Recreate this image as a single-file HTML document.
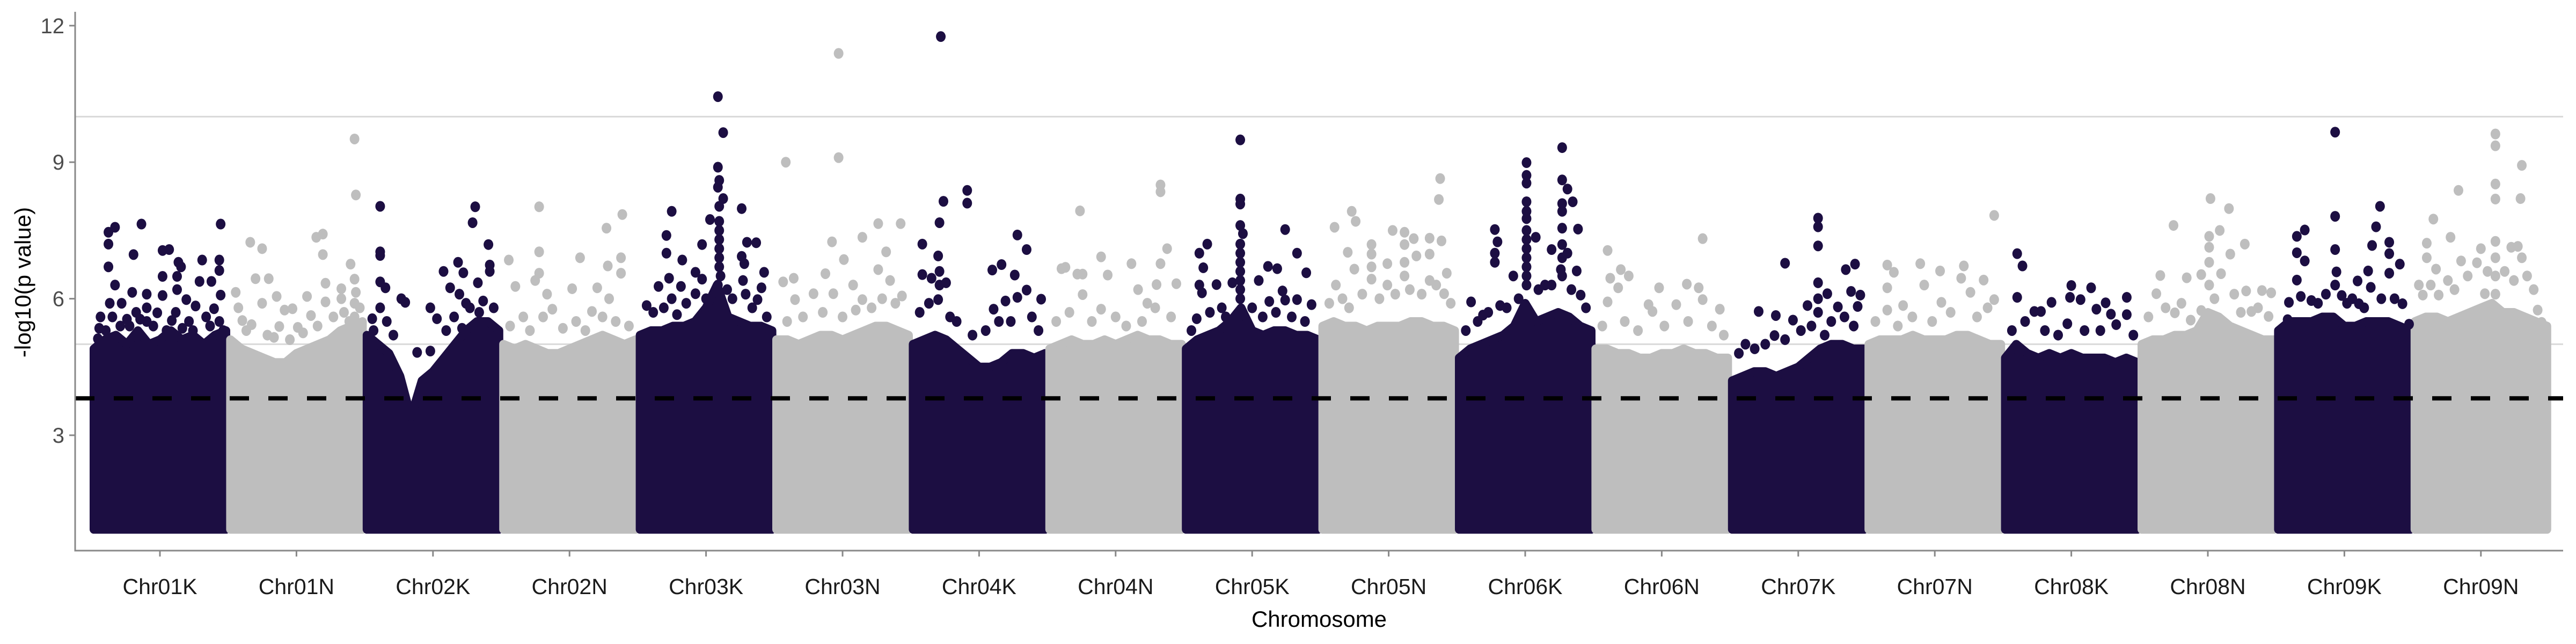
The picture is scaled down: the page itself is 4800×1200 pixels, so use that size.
<!DOCTYPE html>
<html><head><meta charset="utf-8"><style>
html,body{margin:0;padding:0;background:#fff;}
svg{display:block;}
text{font-family:"Liberation Sans",sans-serif;}
</style></head><body>
<svg id="chart" width="4800" height="1200" viewBox="0 0 4800 1200" xmlns="http://www.w3.org/2000/svg">
<g id="grid"></g>
<g id="blocks"></g>
<g id="points"></g>
<g id="thresh"></g>
<g id="axes"></g>
</svg>
<script>
const chromosomes = ["Chr01K","Chr01N","Chr02K","Chr02N","Chr03K","Chr03N","Chr04K","Chr04N","Chr05K","Chr05N","Chr06K","Chr06N","Chr07K","Chr07N","Chr08K","Chr08N","Chr09K","Chr09N"];
const yTicks = [3,6,9,12];
const gridValues = [5,10];
const thresholdValue = 3.81;
const minValue = 0.93;
// dense-region top (−log10 p) sampled at evenly spaced positions per chromosome
const denseTop = [
[4.9,5.1,5.2,5.0,5.3,5.0,5.1,5.3,5.1,5.2,5.0,5.2,5.3],
[5.1,4.9,4.8,4.7,4.6,4.6,4.8,4.9,5.0,5.1,5.3,5.4,5.5],
[5.2,5.0,4.8,4.3,3.4,4.2,4.4,4.7,5.0,5.3,5.5,5.5,5.3],
[5.0,4.9,5.0,4.9,4.8,4.8,4.9,5.0,5.1,5.2,5.1,5.0,5.1],
[5.2,5.3,5.3,5.4,5.4,5.5,5.8,6.3,5.6,5.5,5.4,5.4,5.3],
[5.1,5.1,5.0,5.1,5.2,5.2,5.1,5.2,5.3,5.4,5.4,5.3,5.2],
[5.0,5.1,5.2,5.1,4.9,4.7,4.5,4.5,4.6,4.8,4.8,4.7,4.8],
[4.9,5.0,5.1,5.0,5.0,5.1,5.0,5.1,5.2,5.1,5.1,5.0,5.0],
[4.9,5.1,5.2,5.3,5.5,5.8,5.3,5.2,5.3,5.3,5.2,5.2,5.1],
[5.4,5.5,5.4,5.4,5.3,5.4,5.4,5.4,5.5,5.5,5.4,5.4,5.3],
[4.7,4.9,5.0,5.1,5.2,5.4,5.9,5.5,5.6,5.7,5.6,5.4,5.3],
[4.9,4.9,4.8,4.8,4.7,4.7,4.8,4.8,4.9,4.8,4.8,4.7,4.7],
[4.2,4.3,4.4,4.4,4.3,4.4,4.5,4.7,4.9,5.0,5.0,4.9,4.9],
[5.0,5.1,5.1,5.1,5.2,5.1,5.1,5.1,5.2,5.2,5.1,5.0,5.0],
[4.7,5.0,4.8,4.7,4.8,4.7,4.8,4.7,4.7,4.7,4.6,4.7,4.6],
[5.0,5.1,5.1,5.2,5.2,5.3,5.7,5.6,5.4,5.3,5.2,5.1,5.1],
[5.3,5.5,5.5,5.5,5.6,5.6,5.4,5.4,5.5,5.5,5.5,5.4,5.3],
[5.5,5.6,5.6,5.5,5.6,5.7,5.8,5.9,5.7,5.7,5.6,5.5,5.4]
];
// individual points: chromosome index, relative position within chromosome, −log10 p
const pointChrom = [];
const pointPos = [];
const pointVal = [];
function addPts(c, list){ for (let i=0;i<list.length;i+=2){ pointChrom.push(c); pointPos.push(list[i]); pointVal.push(list[i+1]); } }
addPts(0,[.16,7.57,.11,7.46,.11,7.2,.36,7.64,.96,7.64,.11,6.7,.30,6.97,.52,7.06,.57,7.08,.64,6.8,.66,6.7,.82,6.85,.95,6.85,.95,6.62,.52,6.49,.63,6.49,.80,6.38,.89,6.38,.16,6.3,.29,6.14,.40,6.1,.52,6.07,.96,6.08,.63,6.2,.70,5.98,.21,5.9,.32,5.7,.48,5.69,.77,5.84,.91,5.78,.05,5.6,.04,5.35,.03,5.12,.95,5.5,.27,5.4,.59,5.52,.67,5.35,.40,5.8,.40,5.5,.12,5.9,.85,5.6,.14,5.6,.20,5.4,.45,5.4,.55,5.3,.72,5.5,.88,5.4,.09,5.3,.35,5.55,.62,5.7,.75,5.3,.98,5.3,.25,5.55]);
addPts(1,[.94,9.51,.95,8.28,.15,7.24,.24,7.1,.65,7.35,.70,7.42,.70,6.97,.91,6.76,.94,6.43,.19,6.44,.29,6.44,.72,6.34,.84,6.22,.95,6.14,.04,6.14,.35,6.05,.58,6.05,.84,6.0,.24,5.9,.72,5.93,.41,5.75,.47,5.78,.61,5.63,.09,5.52,.16,5.43,.37,5.39,.51,5.37,.94,5.9,.94,5.6,.06,5.8,.12,5.3,.28,5.2,.45,5.1,.55,5.25,.66,5.4,.78,5.6,.86,5.7,.90,5.5,.98,5.8,.33,5.15]);
addPts(2,[.10,8.03,.10,7.03,.10,6.95,.82,8.02,.80,7.67,.92,7.19,.69,6.8,.58,6.6,.73,6.57,.93,6.6,.93,6.74,.10,6.37,.14,6.24,.26,6.0,.29,5.92,.48,5.8,.53,5.56,.63,6.24,.84,6.35,.04,5.56,.38,4.82,.48,4.85,.10,5.8,.70,6.1,.75,5.9,.05,5.3,.15,5.5,.20,5.2,.60,5.3,.66,5.6,.78,5.8,.88,5.95,.96,5.8,.85,5.7,.72,5.35]);
addPts(3,[.27,8.02,.90,7.85,.78,7.55,.04,6.85,.27,7.03,.58,6.9,.89,6.9,.27,6.56,.89,6.56,.79,6.72,.09,6.27,.24,6.4,.52,6.22,.71,6.24,.33,6.1,.67,5.72,.37,5.77,.15,5.6,.80,6.0,.05,5.4,.20,5.3,.30,5.6,.45,5.35,.55,5.5,.62,5.3,.75,5.6,.85,5.5,.95,5.4]);
addPts(4,[.59,10.44,.63,9.65,.59,8.89,.60,8.6,.59,8.45,.63,8.2,.60,8.03,.53,7.74,.24,7.92,.77,7.98,.20,7.39,.47,7.19,.81,7.24,.88,7.23,.20,7.0,.32,6.85,.77,6.93,.94,6.58,.22,6.45,.42,6.58,.47,6.43,.14,6.27,.31,6.27,.92,6.24,.24,6.0,.05,5.85,.42,6.11,.89,5.98,.79,6.77,.60,7.7,.60,7.5,.60,7.3,.60,7.1,.60,6.9,.60,6.7,.61,6.5,.59,6.3,.78,6.4,.80,6.1,.10,5.7,.18,5.8,.35,5.9,.50,6.0,.70,6.0,.85,5.8,.96,5.6,.28,5.65,.66,6.2]);
addPts(5,[.47,11.39,.47,9.1,.07,9.0,.77,7.65,.94,7.65,.42,7.25,.65,7.35,.83,7.03,.51,6.86,.37,6.55,.77,6.64,.13,6.45,.05,6.37,.58,6.3,.86,6.4,.28,6.11,.43,6.11,.95,6.06,.14,5.98,.65,5.98,.20,5.6,.35,5.7,.50,5.6,.60,5.75,.72,5.8,.80,6.0,.90,5.9,.08,5.5]);
addPts(6,[.21,11.76,.41,8.38,.23,8.14,.41,8.1,.20,7.67,.79,7.4,.07,7.2,.86,7.08,.19,6.94,.67,6.75,.60,6.63,.77,6.52,.07,6.53,.14,6.45,.25,6.35,.86,6.19,.97,5.99,.79,6.03,.70,5.95,.19,5.98,.61,5.77,.33,5.5,.20,6.6,.20,6.3,.05,5.7,.12,5.9,.28,5.6,.45,5.2,.55,5.3,.74,5.5,.90,5.6,.95,5.3,.65,5.5]);
addPts(7,[.23,7.93,.84,8.5,.84,8.35,.39,6.92,.62,6.77,.89,7.1,.25,6.54,.44,6.52,.84,6.77,.67,6.2,.81,6.31,.96,6.33,.25,6.09,.39,5.77,.74,5.9,.09,6.66,.12,6.69,.21,6.54,.05,5.5,.15,5.7,.32,5.5,.50,5.6,.58,5.4,.70,5.5,.80,5.8,.92,5.6]);
addPts(8,[.41,9.49,.41,8.19,.41,8.08,.41,7.61,.43,7.43,.75,7.52,.16,7.2,.10,7.0,.84,7.0,.13,6.68,.91,6.57,.62,6.71,.69,6.66,.23,6.31,.35,6.35,.55,6.4,.10,6.3,.73,6.17,.12,6.13,.63,5.94,.75,5.97,.84,5.98,.95,5.87,.27,5.8,.08,5.56,.41,7.2,.41,7.0,.41,6.8,.41,6.6,.41,6.4,.41,6.2,.41,6.0,.18,5.7,.30,5.6,.50,5.8,.58,5.6,.68,5.7,.80,5.6,.90,5.5,.04,5.3]);
addPts(9,[.89,8.64,.88,8.18,.22,7.92,.25,7.7,.09,7.57,.53,7.5,.62,7.46,.69,7.32,.81,7.33,.90,7.27,.37,7.19,.62,7.19,.19,7.02,.37,6.98,.49,6.77,.81,6.98,.24,6.65,.71,6.94,.81,6.4,.94,6.56,.10,6.3,.37,6.43,.49,6.3,.92,6.11,.62,6.8,.62,6.5,.37,6.7,.05,5.9,.15,6.0,.30,6.1,.43,6.0,.55,6.1,.66,6.2,.75,6.1,.86,6.3,.97,5.9,.20,5.8]);
addPts(10,[.78,9.32,.51,8.99,.51,8.71,.51,8.54,.78,8.61,.82,8.41,.78,8.09,.86,8.13,.78,7.92,.51,8.13,.51,7.92,.51,7.76,.27,7.52,.90,7.53,.78,7.55,.58,7.35,.29,7.25,.70,7.08,.78,7.19,.82,7.0,.27,6.8,.77,6.64,.89,6.61,.41,6.5,.65,6.3,.92,6.08,.09,5.93,.31,5.85,.18,5.64,.51,7.5,.51,7.3,.51,7.1,.51,6.9,.51,6.7,.51,6.5,.51,6.3,.78,6.9,.78,6.5,.27,7.0,.05,5.3,.14,5.5,.22,5.7,.36,5.8,.45,6.0,.60,6.2,.70,6.3,.85,6.2,.96,5.8]);
addPts(11,[.81,7.32,.09,7.06,.19,6.64,.11,6.45,.25,6.5,.17,6.24,.48,6.24,.69,6.32,.78,6.24,.09,5.93,.40,5.87,.61,5.87,.81,5.98,.94,5.77,.43,5.72,.05,5.4,.22,5.5,.32,5.3,.52,5.4,.70,5.5,.88,5.4,.97,5.2]);
addPts(12,[.65,7.77,.65,7.58,.65,7.16,.40,6.78,.86,6.64,.93,6.76,.65,6.35,.72,6.11,.90,6.16,.97,6.08,.57,5.85,.80,5.82,.95,5.83,.46,5.53,.33,5.63,.20,5.72,.32,5.19,.17,4.9,.65,6.0,.65,5.7,.05,4.8,.10,5.0,.25,5.0,.40,5.1,.52,5.3,.60,5.4,.75,5.5,.85,5.6,.92,5.4,.70,5.2]);
addPts(13,[.95,7.83,.14,6.74,.19,6.58,.39,6.77,.54,6.61,.72,6.72,.70,6.45,.87,6.41,.14,6.24,.42,6.3,.77,6.14,.26,5.85,.55,5.92,.95,5.98,.14,5.75,.05,5.5,.33,5.6,.48,5.5,.62,5.7,.82,5.6,.90,5.8,.22,5.4]);
addPts(14,[.09,6.99,.13,6.72,.09,6.03,.50,6.29,.65,6.24,.49,6.03,.57,5.98,.76,5.91,.92,6.03,.35,5.92,.27,5.72,.69,5.77,.92,5.65,.80,5.66,.47,5.45,.84,5.43,.22,5.72,.05,5.3,.15,5.5,.30,5.3,.40,5.2,.60,5.3,.72,5.3,.97,5.2]);
addPts(15,[.52,8.2,.66,7.98,.24,7.61,.51,7.37,.59,7.5,.78,7.2,.14,6.51,.34,6.46,.45,6.53,.51,7.13,.67,6.98,.60,6.55,.79,6.17,.91,6.18,.98,6.13,.11,6.11,.25,5.69,.37,5.53,.45,5.74,.83,5.72,.96,5.61,.51,6.8,.51,6.3,.05,5.6,.18,5.8,.30,5.9,.55,6.0,.70,6.1,.75,5.7,.88,5.8]);
addPts(16,[.43,9.66,.43,7.81,.77,8.03,.74,7.58,.20,7.51,.14,7.37,.43,7.08,.14,7.01,.84,7.24,.84,6.99,.71,7.17,.92,6.76,.20,6.83,.68,6.61,.44,6.59,.84,6.56,.14,6.41,.60,6.39,.17,6.05,.25,5.96,.48,6.07,.08,5.92,.61,5.89,.70,6.25,.94,5.89,.07,5.54,.99,5.44,.43,6.3,.30,5.9,.36,6.1,.52,5.9,.56,6.0,.78,6.0,.88,6.0,.65,5.8]);
addPts(17,[.61,9.62,.61,9.36,.81,8.93,.61,8.52,.61,8.19,.80,8.2,.33,8.38,.14,7.75,.27,7.35,.09,7.22,.50,7.1,.61,7.26,.73,7.13,.78,7.15,.81,6.9,.09,6.9,.16,6.65,.35,6.83,.47,6.79,.85,6.5,.53,6.11,.18,6.08,.06,6.08,.93,5.75,.96,5.48,.61,6.9,.61,6.5,.61,6.1,.03,6.3,.25,6.4,.40,6.5,.55,6.6,.68,6.6,.75,6.4,.90,6.2,.30,6.2,.12,6.3]);

const NS='http://www.w3.org/2000/svg';
const DARK='#1c0e42', LIGHT='#bebebe';
const plotL=140, plotR=4776, axisY=1026;
function yScale(v){ return 811 - (v-3)*84.8; }
function chromLeft(i){ return 175 + i*254.4; }
const blockW = 246;
function xScale(c,f){ return chromLeft(c) + f*blockW; }
function chromCenter(i){ return chromLeft(i) + blockW/2; }
function mk(tag, attrs, parent){ const e=document.createElementNS(NS,tag); for(const k in attrs) e.setAttribute(k,attrs[k]); parent.appendChild(e); return e; }
const gGrid=document.getElementById('grid'), gBlocks=document.getElementById('blocks'), gPts=document.getElementById('points'), gTh=document.getElementById('thresh'), gAx=document.getElementById('axes');

gridValues.forEach(v=>{
  const l=mk('line',{x1:plotL,x2:plotR,y1:yScale(v),y2:yScale(v),stroke:'#d9d9d9','stroke-width':3},gGrid);
  
  
});

denseTop.forEach((prof,c)=>{
  let d='M'+xScale(c,0)+','+yScale(minValue);
  prof.forEach((v,k)=>{ d+=' L'+xScale(c,k/(prof.length-1))+','+yScale(v); });
  d+=' L'+xScale(c,1)+','+yScale(minValue)+' Z';
  const col = c%2===0?DARK:LIGHT;
  const p=mk('path',{d:d,fill:col,stroke:col,'stroke-width':16,'stroke-linejoin':'round'},gBlocks);
  
  
});

for(let i=0;i<pointVal.length;i++){
  const c=pointChrom[i];
  const e=mk('ellipse',{cx:xScale(c,pointPos[i]),cy:yScale(pointVal[i]),rx:9,ry:10,fill:c%2===0?DARK:LIGHT},gPts);
  
  
}

const th=mk('line',{x1:plotL,x2:plotR,y1:yScale(thresholdValue),y2:yScale(thresholdValue),stroke:'#000','stroke-width':8,'stroke-dasharray':'36 36'},gTh);



const ya=mk('line',{x1:plotL,x2:plotL,y1:22,y2:axisY,stroke:'#888','stroke-width':3},gAx);


const xa=mk('line',{x1:plotL-1.5,x2:plotR,y1:axisY,y2:axisY,stroke:'#888','stroke-width':3},gAx);



yTicks.forEach(v=>{
  const t=mk('line',{x1:plotL-11,x2:plotL,y1:yScale(v),y2:yScale(v),stroke:'#888','stroke-width':3},gAx);
  
  
  const tx=mk('text',{x:plotL-20,y:yScale(v)+14,'text-anchor':'end','font-size':40,fill:'#4d4d4d'},gAx);
  tx.textContent=v;
  
  
});

chromosomes.forEach((name,i)=>{
  const t=mk('line',{x1:chromCenter(i),x2:chromCenter(i),y1:axisY,y2:axisY+11,stroke:'#888','stroke-width':3},gAx);
  
  
  const tx=mk('text',{x:chromCenter(i),y:1107,'text-anchor':'middle','font-size':41,fill:'#1a1a1a'},gAx);
  tx.textContent=name;
  
  
});

const xt=mk('text',{x:2458,y:1168,'text-anchor':'middle','font-size':42,fill:'#000'},gAx);
xt.textContent='Chromosome';


const yt=mk('text',{x:0,y:0,'text-anchor':'middle','font-size':42,fill:'#000',transform:'translate(57,526) rotate(-90)'},gAx);
yt.textContent='-log10(p value)';


</script>
</body></html>
